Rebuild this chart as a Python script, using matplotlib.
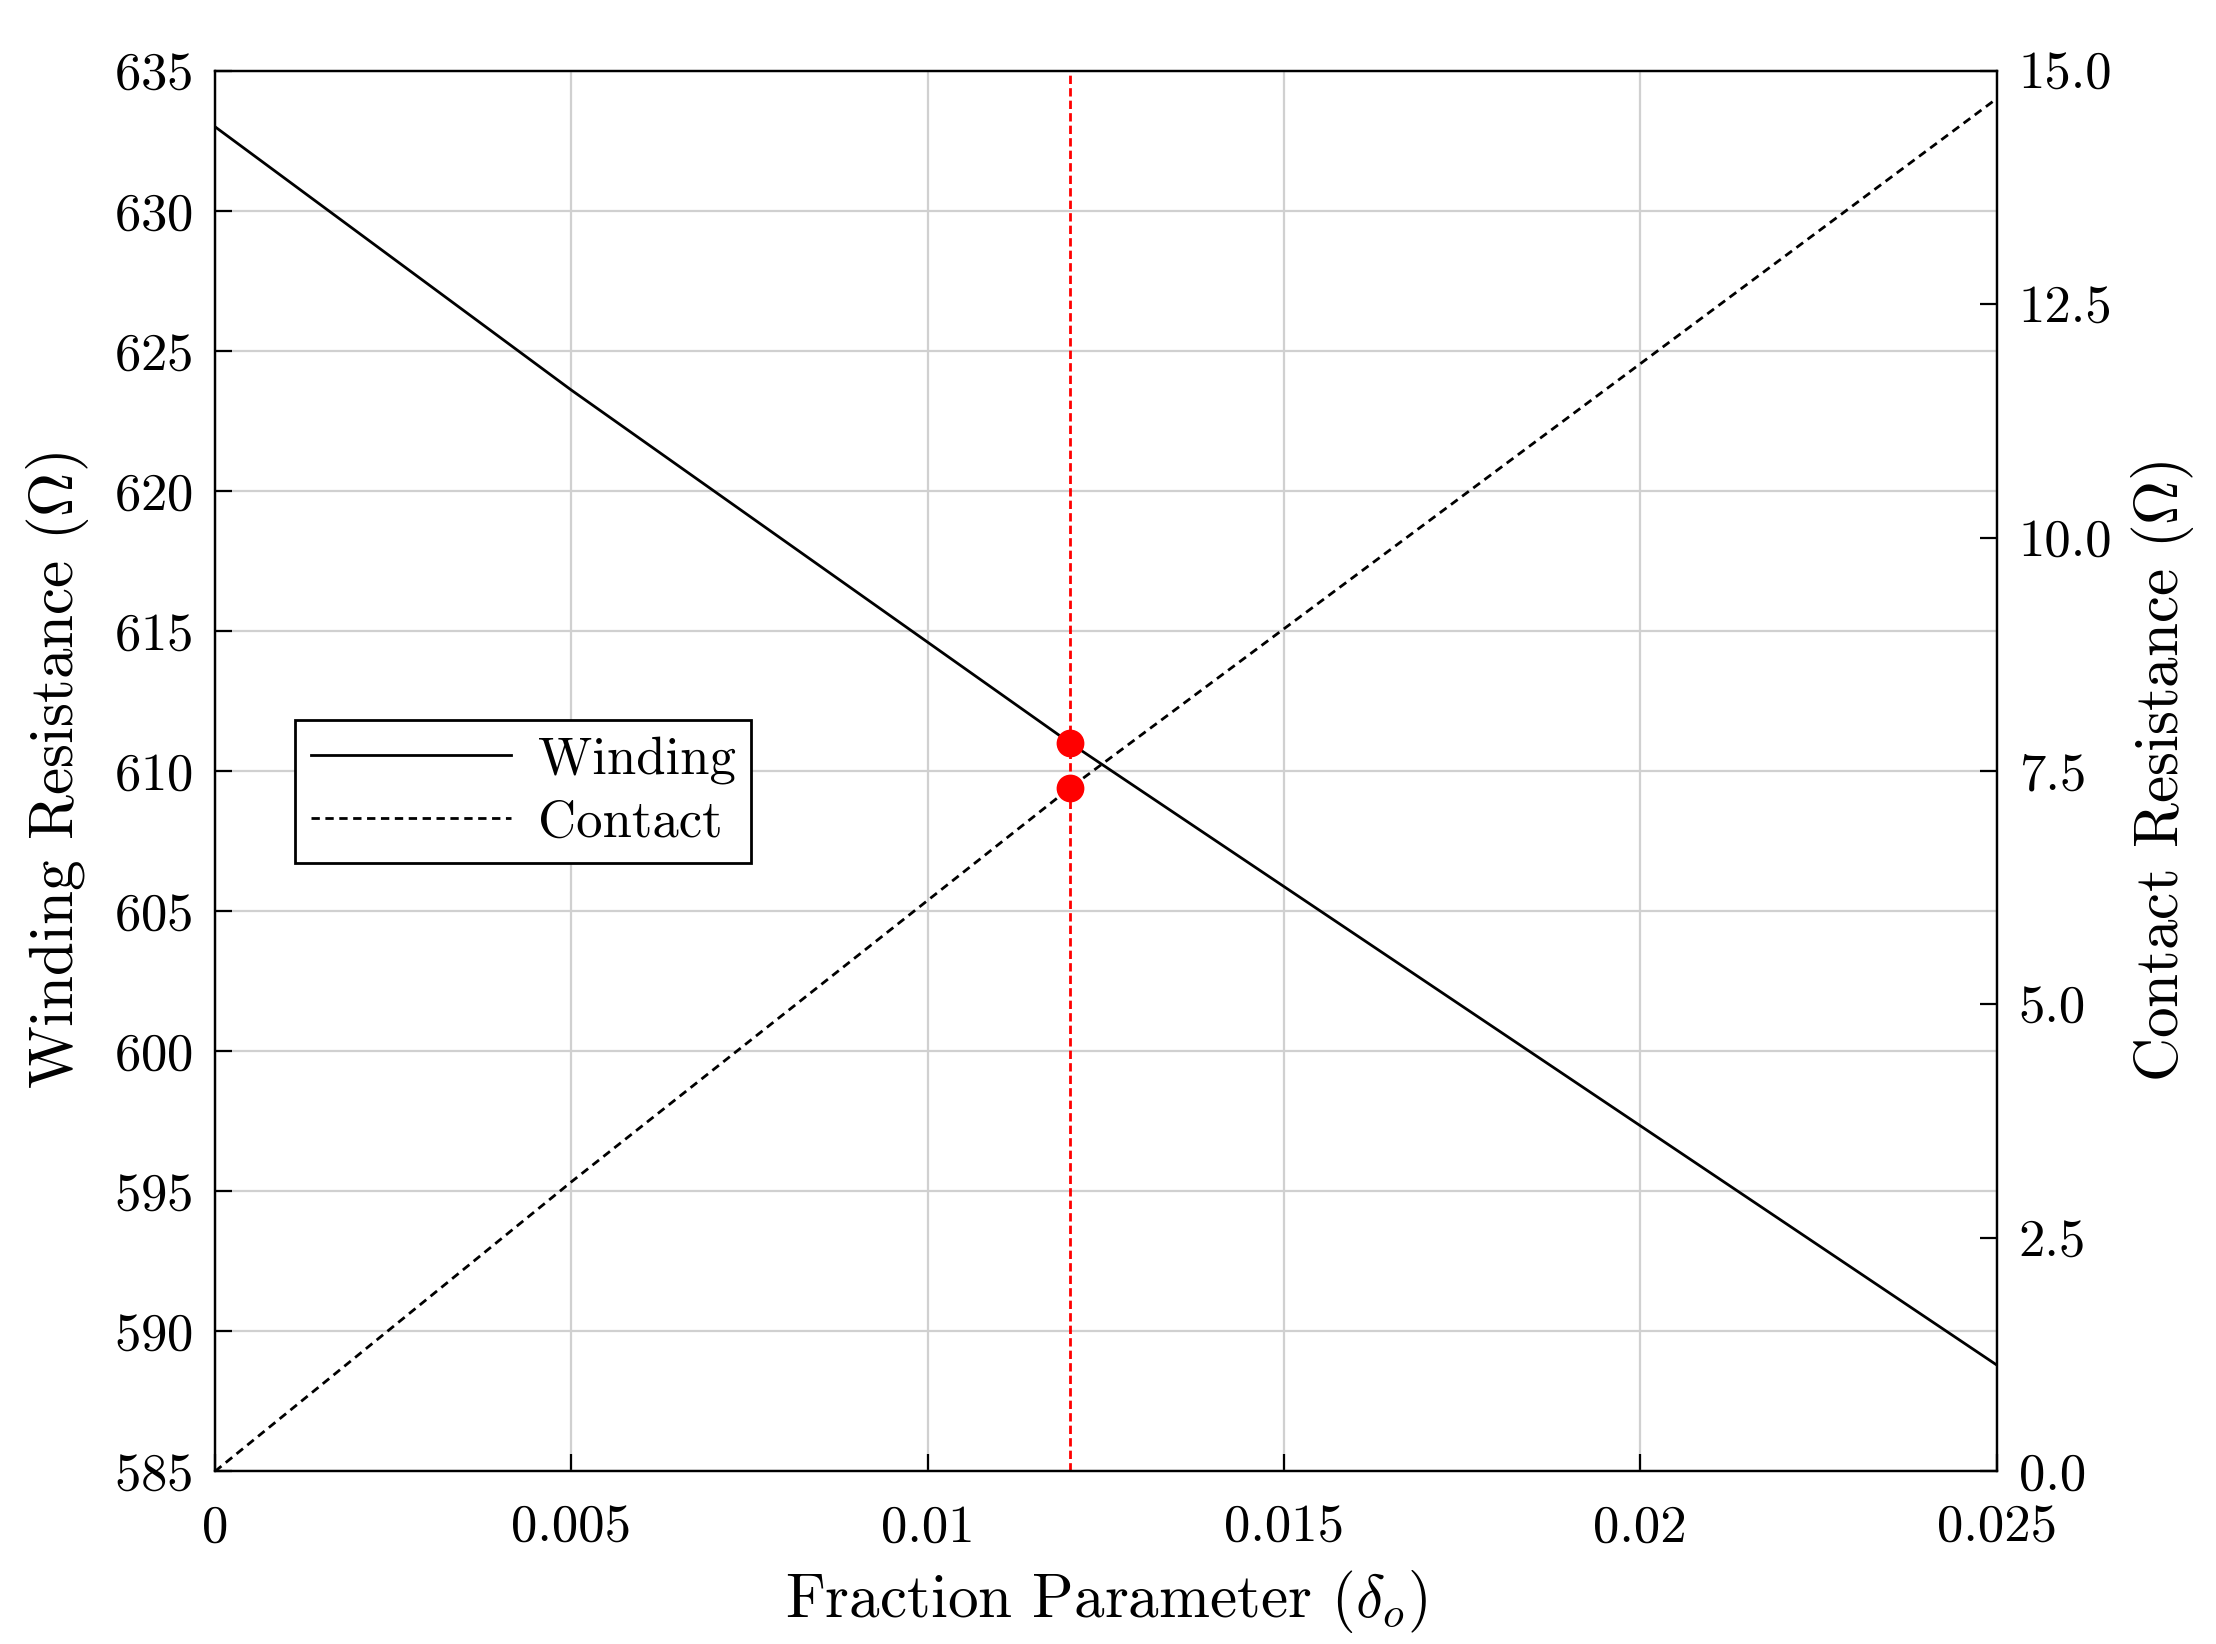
import matplotlib
matplotlib.use("Agg")
import matplotlib.pyplot as plt
from matplotlib.ticker import FormatStrFormatter

plt.rcParams["font.family"] = "serif"
plt.rcParams["font.serif"] = ["cmr10", "DejaVu Serif"]
plt.rcParams["mathtext.fontset"] = "cm"
plt.rcParams["axes.formatter.use_mathtext"] = True
plt.rcParams["axes.unicode_minus"] = False

# data
delta = [0.0, 0.005, 0.012, 0.025]
winding = [633.0, 623.6, 611.0, 588.8]
contact = [0.0, 3.1, 7.32, 14.7]
delta_opt = 0.012
winding_opt = 611.0
contact_opt = 7.32

fig = plt.figure(figsize=(11.08, 8.22), dpi=200)
ax = fig.add_axes([0.097, 0.105, 0.804, 0.852])
ax2 = ax.twinx()

lw, = ax.plot(delta, winding, color="black", lw=1.0, label="Winding")
lc, = ax2.plot(delta, contact, color="black", lw=1.0, ls="--", dashes=(3, 2), label="Contact")
ax.axvline(delta_opt, color="red", lw=1.0, ls="--", dashes=(3, 1.5))
ax.plot([delta_opt], [winding_opt], "o", color="red", ms=9, zorder=5)
ax2.plot([delta_opt], [contact_opt], "o", color="red", ms=9, zorder=5)

ax.set_xlim(0, 0.025)
ax.set_ylim(585, 635)
ax2.set_ylim(0, 15)
ax.set_xticks([0, 0.005, 0.01, 0.015, 0.02, 0.025])
ax.set_xticklabels(["0", "0.005", "0.01", "0.015", "0.02", "0.025"])
ax.set_yticks(range(585, 636, 5))
ax2.set_yticks([0, 2.5, 5, 7.5, 10, 12.5, 15])
ax2.yaxis.set_major_formatter(FormatStrFormatter("%.1f"))
ax.grid(True, color="#d0d0d0", lw=0.8)
ax.set_axisbelow(True)
for a in (ax, ax2):
    a.tick_params(direction="in", labelsize=19, length=6, pad=8)
ax.tick_params(axis="x", pad=12)

ax.set_xlabel(r"Fraction Parameter ($\delta_o$)", fontsize=22, labelpad=6)
ax.set_ylabel(r"Winding Resistance ($\Omega$)", fontsize=22, labelpad=8)
ax2.set_ylabel(r"Contact Resistance ($\Omega$)", fontsize=22, labelpad=6)

leg = ax.legend(handles=[lw, lc], loc="upper left", bbox_to_anchor=(0.03, 0.555),
                fontsize=19, fancybox=False, edgecolor="black", framealpha=1,
                handlelength=3.8, borderpad=0.3, handletextpad=0.5, labelspacing=0.3)
leg.get_frame().set_linewidth(1.0)

fig.savefig("out.png", dpi=200)
